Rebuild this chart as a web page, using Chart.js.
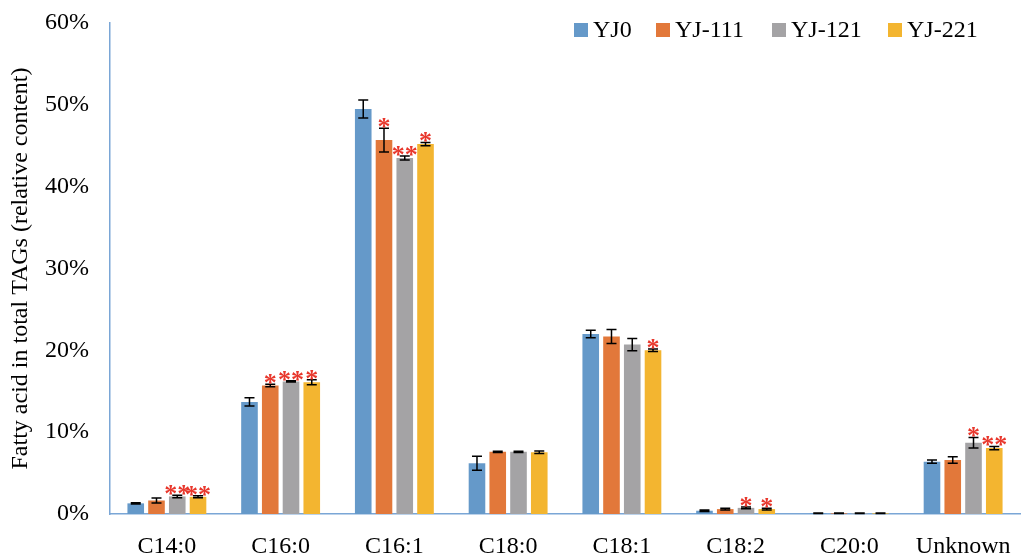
<!DOCTYPE html>
<html>
<head>
<meta charset="utf-8">
<script src="https://cdn.jsdelivr.net/npm/chart.js@4/dist/chart.umd.min.js"></script>
<style>
  body { margin: 0; background: #fff; }
  #wrap { width: 1022px; height: 555px; }
</style>
</head>
<body>
<div id="wrap"><canvas id="faChart"></canvas></div>
<script>
// categories + series (relative content, %)
const categories = ['C14:0', 'C16:0', 'C16:1', 'C18:0', 'C18:1', 'C18:2', 'C20:0', 'Unknown'];
const seriesNames = ['YJ0', 'YJ-111', 'YJ-121', 'YJ-221'];
const colors = ['#6599c9', '#e2783a', '#a4a3a5', '#f3b530'];

const yj0   = [1.3, 13.7, 49.5, 6.2, 22.0, 0.4, 0.08, 6.4];
const yj111 = [1.65, 15.7, 45.7, 7.6, 21.7, 0.6, 0.08, 6.6];
const yj121 = [2.15, 16.2, 43.5, 7.6, 20.7, 0.75, 0.08, 8.7];
const yj221 = [2.1, 16.1, 45.2, 7.55, 20.0, 0.6, 0.08, 8.05];

// error bars (+/-)
const err0   = [0.08, 0.5, 1.1, 0.85, 0.45, 0.08, 0.03, 0.2];
const err111 = [0.3, 0.15, 1.45, 0.08, 0.85, 0.1, 0.03, 0.4];
const err121 = [0.15, 0.08, 0.25, 0.08, 0.75, 0.1, 0.03, 0.65];
const err221 = [0.12, 0.3, 0.2, 0.15, 0.15, 0.1, 0.03, 0.2];

// significance marks
const sig0   = ['', '', '', '', '', '', '', ''];
const sig111 = ['', '*', '*', '', '', '', '', ''];
const sig121 = ['**', '**', '**', '', '', '*', '', '*'];
const sig221 = ['**', '*', '*', '', '*', '*', '', '**'];

const yTicks = [0, 10, 20, 30, 40, 50, 60];

const allValues = [yj0, yj111, yj121, yj221];
const allErrs = [err0, err111, err121, err221];
const allSig = [sig0, sig111, sig121, sig221];

const serif = "'Liberation Serif', 'Times New Roman', serif";

// 误差线 + 星号
const errorBarPlugin = {
  id: 'errorBars',
  afterDatasetsDraw(chart) {
    const ctx = chart.ctx;
    const y = chart.scales.y;
    ctx.save();
    chart.data.datasets.forEach((ds, i) => {
      const meta = chart.getDatasetMeta(i);
      meta.data.forEach((bar, j) => {
        const v = ds.data[j];
        const e = allErrs[i][j];
        const top = y.getPixelForValue(v + e);
        const bot = y.getPixelForValue(v - e);
        ctx.strokeStyle = '#000';
        ctx.lineWidth = 1.5;
        ctx.beginPath();
        ctx.moveTo(bar.x, top); ctx.lineTo(bar.x, bot);
        ctx.moveTo(bar.x - 5, top); ctx.lineTo(bar.x + 5, top);
        ctx.moveTo(bar.x - 5, bot); ctx.lineTo(bar.x + 5, bot);
        ctx.stroke();
        const s = allSig[i][j];
        if (s) {
          ctx.fillStyle = '#e8372c';
          ctx.font = 'bold 26px ' + serif;
          ctx.textAlign = 'center';
          ctx.textBaseline = 'alphabetic';
          ctx.fillText(s, bar.x, top + 7);
        }
      });
    });
    ctx.restore();
  }
};

// legend drawn over the top-right of the plot
const legendPlugin = {
  id: 'topLegend',
  afterDraw(chart) {
    const ctx = chart.ctx;
    const xs = [574, 656, 772, 888];
    ctx.save();
    ctx.font = '24px ' + serif;
    ctx.textBaseline = 'middle';
    ctx.textAlign = 'left';
    chart.data.datasets.forEach((ds, i) => {
      ctx.fillStyle = ds.backgroundColor;
      ctx.fillRect(xs[i], 23, 14, 14);
      ctx.fillStyle = '#000';
      ctx.fillText(ds.label, xs[i] + 19, 31);
    });
    ctx.restore();
  }
};

const ctx = document.getElementById('faChart').getContext('2d');
const faChart = new Chart(ctx, {
  type: 'bar',
  data: {
    labels: categories,
    datasets: seriesNames.map((name, i) => ({
      label: name,
      data: allValues[i],
      backgroundColor: colors[i],
      borderWidth: 0,
      categoryPercentage: 0.73,
      barPercentage: 0.8
    }))
  },
  options: {
    responsive: true,
    maintainAspectRatio: false,
    animation: false,
    layout: { padding: { top: 23, right: 2, bottom: 0, left: 0 } },
    plugins: {
      legend: { display: false },
      tooltip: { enabled: false }
    },
    scales: {
      x: {
        grid: { display: false },
        border: { display: true, color: '#7aa6d6', width: 1.5 },
        ticks: { color: '#000', font: { family: serif, size: 24 }, padding: 10 },
        afterFit: s => { s.height = 41; }
      },
      y: {
        min: 0,
        max: 60,
        grid: { display: false },
        border: { display: true, color: '#7aa6d6', width: 1.5 },
        afterBuildTicks: s => { s.ticks = yTicks.map(v => ({ value: v })); },
        ticks: {
          color: '#000',
          font: { family: serif, size: 24 },
          padding: 13,
          callback: v => v + '%'
        },
        title: {
          display: true,
          text: 'Fatty acid in total TAGs (relative content)',
          color: '#000',
          font: { family: serif, size: 24 },
          padding: { top: 6, bottom: 0 }
        },
        afterFit: s => { s.width = 110; s.paddingTop = 0; s.paddingBottom = 0; }
      }
    }
  },
  plugins: [errorBarPlugin, legendPlugin]
});
</script>
</body>
</html>
